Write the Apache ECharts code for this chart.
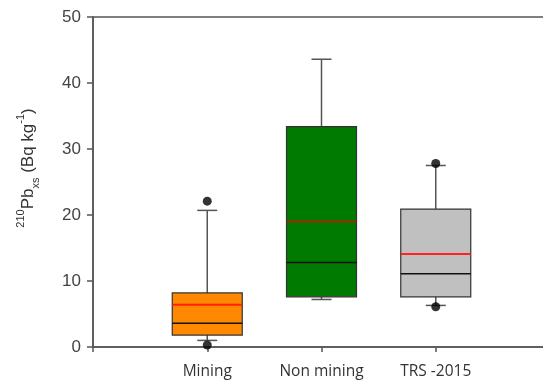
<!DOCTYPE html>
<html><head><meta charset="utf-8">
<script src="https://cdn.jsdelivr.net/npm/echarts@6/dist/echarts.min.js"></script>
<style>html,body{margin:0;padding:0;background:#fff}#c{width:543px;height:388px}</style>
</head><body><div id="c"></div>
<script>
// Data
var categories = ['Mining', 'Non mining', 'TRS -2015'];
var lowerWhisker = [1.0, 7.2, 6.3];
var q1 = [1.8, 7.6, 7.6];
var median = [3.6, 12.8, 11.1];
var q3 = [8.2, 33.4, 20.9];
var upperWhisker = [20.7, 43.6, 27.5];
var mean = [6.4, 19.0, 14.1];
var outlierCategory = ['Mining', 'Mining', 'TRS -2015', 'TRS -2015'];
var outlierValue = [22.1, 0.3, 27.8, 6.1];
var yTicks = [0, 10, 20, 30, 40, 50];

// styles
var boxColors = ['#ff8800', '#007a00', '#c0c0c0'];
var meanColors = ['#ff2200', '#a02a00', '#ff2222'];

var axisCats = [''].concat(categories).concat(['']);
var boxData = categories.map(function (c, i) {
  return [i + 1, lowerWhisker[i], q1[i], median[i], q3[i], upperWhisker[i], mean[i]];
});
var outlierData = outlierCategory.map(function (c, i) {
  return [categories.indexOf(c) + 1, outlierValue[i]];
});

var chart = echarts.init(document.getElementById('c'), null, {renderer: 'canvas'});
var BOXW = 70, CAPW = 20;
chart.setOption({
  animation: false,
  grid: {left: 93, top: 17, width: 457, bottom: 41, show: true, borderColor: '#555', borderWidth: 1.5,
    containLabel: false, outerBoundsMode: 'none'},
  xAxis: {
    type: 'category', data: axisCats, boundaryGap: false,
    axisLine: {lineStyle: {color: '#555', width: 1.5}},
    axisTick: {show: true, length: 5, lineStyle: {color: '#555', width: 1.5}},
    axisLabel: {fontFamily: 'Open Sans', fontSize: 15.5, color: '#333', margin: 17}
  },
  yAxis: {
    type: 'value', min: yTicks[0], max: yTicks[yTicks.length - 1], interval: 10,
    axisLine: {show: true, lineStyle: {color: '#555', width: 1.5}},
    axisTick: {show: true, inside: false, length: 6, lineStyle: {color: '#555', width: 1.5}},
    axisLabel: {fontFamily: 'Liberation Sans', fontSize: 17, color: '#444', margin: 12},
    splitLine: {show: false}
  },
  graphic: [{
    type: 'text', x: 28, y: 168, rotation: Math.PI / 2,
    style: {
      text: '{sup|210}{m|Pb}{sub|xs}{m| (Bq kg}{sup|-1}{m|)}',
      align: 'center', verticalAlign: 'middle',
      rich: {
        m: {fontFamily: 'Liberation Sans', fontSize: 17, fill: '#333', lineHeight: 26},
        sup: {fontFamily: 'Liberation Sans', fontSize: 11, fill: '#333', verticalAlign: 'top'},
        sub: {fontFamily: 'Liberation Sans', fontSize: 11, fill: '#333', verticalAlign: 'bottom'}
      }
    }
  }],
  series: [{
    type: 'custom',
    data: boxData,
    encode: {x: 0, y: [1, 2, 3, 4, 5, 6]},
    renderItem: function (params, api) {
      var i = params.dataIndex;
      var x = api.value(0);
      var pLo = api.coord([x, api.value(1)]);
      var pQ1 = api.coord([x, api.value(2)]);
      var pMed = api.coord([x, api.value(3)]);
      var pQ3 = api.coord([x, api.value(4)]);
      var pHi = api.coord([x, api.value(5)]);
      var pMean = api.coord([x, api.value(6)]);
      var cx = pQ1[0];
      var wl = {stroke: '#555', lineWidth: 1.5};
      return {
        type: 'group',
        children: [
          {type: 'line', shape: {x1: cx, y1: pQ3[1], x2: cx, y2: pHi[1]}, style: wl},
          {type: 'line', shape: {x1: cx, y1: pQ1[1], x2: cx, y2: pLo[1]}, style: wl},
          {type: 'line', shape: {x1: cx - CAPW / 2, y1: pHi[1], x2: cx + CAPW / 2, y2: pHi[1]}, style: wl},
          {type: 'line', shape: {x1: cx - CAPW / 2, y1: pLo[1], x2: cx + CAPW / 2, y2: pLo[1]}, style: wl},
          {type: 'rect', shape: {x: cx - BOXW / 2, y: pQ3[1], width: BOXW, height: pQ1[1] - pQ3[1]},
            style: {fill: boxColors[i], stroke: '#333', lineWidth: 1.2}},
          {type: 'line', shape: {x1: cx - BOXW / 2, y1: pMed[1], x2: cx + BOXW / 2, y2: pMed[1]},
            style: {stroke: '#111', lineWidth: 1.5}},
          {type: 'line', shape: {x1: cx - BOXW / 2, y1: pMean[1], x2: cx + BOXW / 2, y2: pMean[1]},
            style: {stroke: meanColors[i], lineWidth: 2}}
        ]
      };
    }
  }, {
    type: 'scatter',
    data: outlierData,
    symbol: 'circle', symbolSize: 9,
    itemStyle: {color: '#000'},
    z: 5
  }]
});
</script></body></html>
